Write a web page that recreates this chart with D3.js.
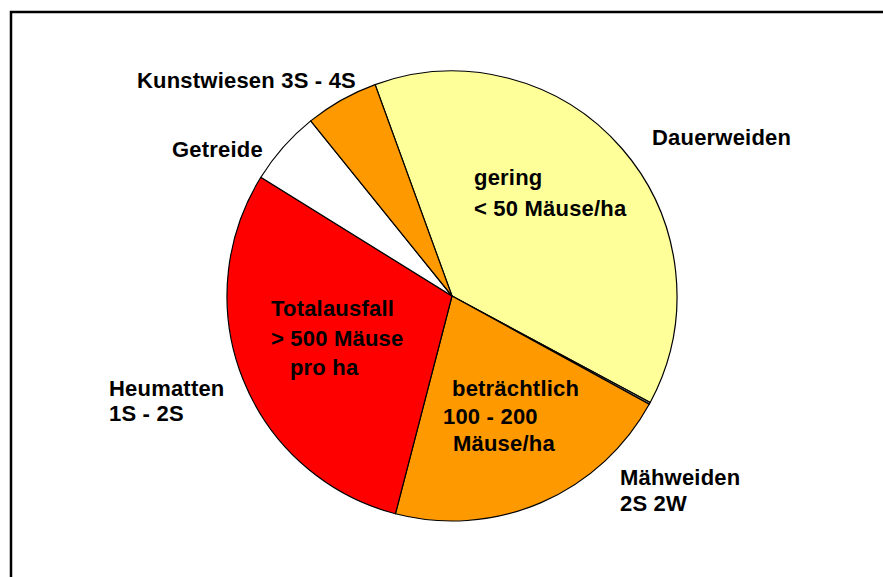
<!DOCTYPE html>
<html>
<head>
<meta charset="utf-8">
<script src="https://cdn.jsdelivr.net/npm/d3@7"></script>
<style>
  body { margin: 0; background: #fff; }
  text { font-family: "Liberation Sans", Arial, sans-serif; font-weight: bold; font-size: 22px; letter-spacing: 0.2px; fill: #000; }
</style>
</head>
<body>
<div id="chart"></div>
<script>
// slices in clockwise order, starting at the Dauerweiden edge
var categories = ["Dauerweiden", "Übrige", "Mähweiden", "Heumatten", "Getreide", "Kunstwiesen"];
var shares = [38.4, 0.15, 21.05, 29.8, 5.35, 5.25];
var fills = ["#FFFF99", "#808080", "#FF9900", "#FF0000", "#FFFFFF", "#FF9900"];

// outside labels, one array of lines per label
var outerLabels = [
    ["Kunstwiesen 3S - 4S"],
    ["Getreide"],
    ["Dauerweiden"],
    ["Heumatten", "1S - 2S"],
    ["Mähweiden", "2S 2W"]
];
// labels inside the slices
var innerLabels = [
    ["gering", "< 50 Mäuse/ha"],
    ["Totalausfall", "> 500 Mäuse", "   pro ha"],
    ["beträchtlich", "100 - 200", "Mäuse/ha"]
];

var canvas = { width: 883, height: 577 };
var center = { x: 452, y: 296 };
var radius = 225;

// where each label block starts (x, first baseline, line step)
var outerPos = [[137, 88, 0], [172, 157, 0], [652, 145, 0], [109, 396, 25], [620, 485, 26]];
var innerPos = [[474, 185, 31], [271, 316, 29.5], [452, 396, 27.5]];
var innerIndent = [[0, 0], [0, 0, 0], [0, -9, 1]];

var svg = d3.select("#chart").append("svg")
    .attr("width", canvas.width)
    .attr("height", canvas.height);

// frame, runs off the right and bottom edge
svg.append("rect")
    .attr("x", 11)
    .attr("y", 12)
    .attr("width", canvas.width)
    .attr("height", canvas.height)
    .attr("fill", "none")
    .attr("stroke", "#000")
    .attr("stroke-width", 2.5);

var pie = d3.pie()
    .sort(null)
    .startAngle(-20 * Math.PI / 180)
    .endAngle(340 * Math.PI / 180);

var arc = d3.arc()
    .innerRadius(0)
    .outerRadius(radius);

var pieGroup = svg.append("g")
    .attr("transform", `translate(${center.x}, ${center.y})`);

pieGroup.selectAll("path")
    .data(pie(shares))
    .enter()
    .append("path")
    .attr("d", arc)
    .attr("fill", (d, i) => fills[i])
    .attr("stroke", "#000")
    .attr("stroke-width", 1.2)
    .attr("stroke-linejoin", "round");

function addLabel(lines, pos, indent) {
    var t = svg.append("text")
        .attr("x", pos[0])
        .attr("y", pos[1])
        .attr("xml:space", "preserve");
    lines.forEach(function (line, j) {
        t.append("tspan")
            .attr("x", pos[0] + (indent ? indent[j] : 0))
            .attr("y", pos[1] + j * pos[2])
            .text(line);
    });
}

outerLabels.forEach((lines, i) => addLabel(lines, outerPos[i]));
innerLabels.forEach((lines, i) => addLabel(lines, innerPos[i], innerIndent[i]));
</script>
</body>
</html>
